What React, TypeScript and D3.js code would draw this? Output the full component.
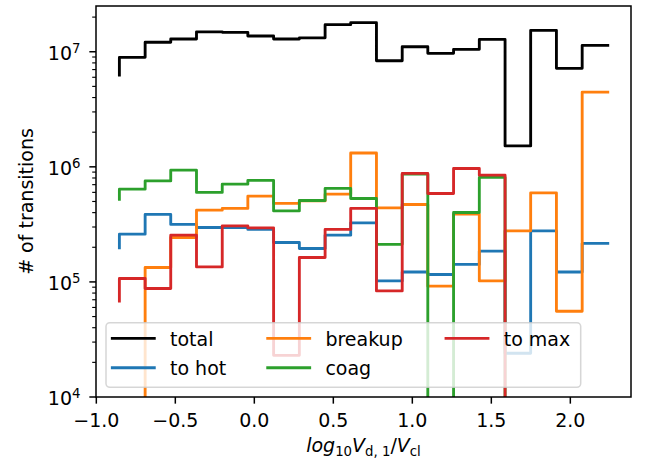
import React from 'react';
import * as d3 from 'd3';

// bin edges (x of each step point) and counts, step drawn "pre"
const binEdges = [-0.854, -0.691, -0.529, -0.366, -0.203, -0.041, 0.122, 0.285, 0.448, 0.610,
  0.773, 0.936, 1.098, 1.261, 1.424, 1.587, 1.749, 1.912, 2.075, 2.237];

const total = [6.27e6, 8.94e6, 1.21e7, 1.29e7, 1.49e7, 1.475e7, 1.37e7, 1.29e7, 1.32e7, 1.72e7,
  1.79e7, 8.35e6, 1.105e7, 9.69e6, 1.05e7, 1.28e7, 1.52e6, 1.535e7, 7.17e6, 1.137e7];
const toHot = [1.98e5, 2.6e5, 3.86e5, 3.16e5, 2.97e5, 2.97e5, 2.86e5, 2.2e5, 1.95e5, 2.55e5,
  3.26e5, 1.02e5, 1.22e5, 1.16e5, 1.42e5, 1.85e5, 2.4e4, 2.78e5, 1.22e5, 2.16e5];
const breakup = [0, 0, 1.334e5, 2.43e5, 4.2e5, 4.35e5, 5.56e5, 4.81e5, 5.06e5, 5.79e5,
  1.32e6, 4.4e5, 4.71e5, 9.18e4, 3.88e5, 1.02e5, 2.78e5, 5.94e5, 5.56e4, 4.46e6];
const coag = [5.21e5, 6.4e5, 7.55e5, 9.36e5, 5.99e5, 7.07e5, 7.62e5, 4.14e5, 5.1e5, 6.49e5,
  5.31e5, 2.12e5, 8.64e5, 0, 4.01e5, 8.09e5, 0, 0, 0, 0];
const toMax = [6.8e4, 1.07e5, 8.76e4, 2.55e5, 1.35e5, 3.07e5, 2.95e5, 2.3e4, 1.63e5, 2.86e5,
  4.35e5, 8.35e4, 8.76e5, 5.87e5, 9.68e5, 8.47e5, 0, 0, 0, 0];

const xTicks = [-1.0, -0.5, 0.0, 0.5, 1.0, 1.5, 2.0];
const xTickLabels = ['\u22121.0', '\u22120.5', '0.0', '0.5', '1.0', '1.5', '2.0'];
const yTickExps = [4, 5, 6, 7];

const seriesNames = ['total', 'to hot', 'breakup', 'coag', 'to max'];
const seriesColors = ['#000000', '#1f77b4', '#ff7f0e', '#2ca02c', '#d62728'];
const seriesValues = [total, toHot, breakup, coag, toMax];

const W = 646, H = 462;
const L = 96, R = 631, T = 6, B = 397;
const FONT = 'DejaVu Sans';
const FS = 19;

export default function App() {
  const x = d3.scaleLinear().domain([-1.002, 2.384]).range([L, R]);
  const y = d3.scaleLog().domain([1e4, Math.pow(10, 7.3975)]).range([B, T]);

  const line = d3.line<number>()
    .x((_, i) => x(binEdges[i]))
    .y(d => y(d > 0 ? d : 1))
    .curve(d3.curveStepBefore);

  const minorTicks: number[] = [];
  yTickExps.forEach(e => {
    for (let k = 2; k <= 9; k++) {
      const v = k * Math.pow(10, e);
      if (v <= y.domain()[1]) minorTicks.push(v);
    }
  });

  const legendCols = [112.3, 267.7, 446];
  const legendRows = [338.3, 367.7];
  const legendItems = seriesNames.map((n, i) => ({
    name: n, color: seriesColors[i],
    cx: legendCols[Math.floor(i / 2)], cy: legendRows[i % 2],
  }));

  return (
    <svg width={W} height={H} style={{ position: 'absolute', left: 0, top: 0, display: 'block', background: '#fff' }}
      fontFamily={FONT}>
      <defs>
        <clipPath id="plotclip">
          <rect x={L} y={T} width={R - L} height={B - T} />
        </clipPath>
      </defs>
      <rect x={0} y={0} width={W} height={H} fill="#fff" />
      <g clipPath="url(#plotclip)">
        {seriesValues.map((vals, i) => (
          <path key={i} d={line(vals) || ''} fill="none" stroke={seriesColors[i]}
            strokeWidth={2.85} strokeLinejoin="round" strokeLinecap="square" />
        ))}
      </g>
      {/* spines */}
      <rect x={L} y={T} width={R - L} height={B - T} fill="none" stroke="#000" strokeWidth={1.5} />
      {/* x ticks */}
      {xTicks.map((t, i) => (
        <g key={'xt' + i}>
          <line x1={x(t)} x2={x(t)} y1={B} y2={B + 6.65} stroke="#000" strokeWidth={1.5} />
          <text x={x(t)} y={427} fontSize={FS} textAnchor="middle" fill="#000">{xTickLabels[i]}</text>
        </g>
      ))}
      {/* y major ticks */}
      {yTickExps.map(e => {
        const yy = y(Math.pow(10, e));
        return (
          <g key={'yt' + e}>
            <line x1={L} x2={L - 6.65} y1={yy} y2={yy} stroke="#000" strokeWidth={1.5} />
            <text x={80.5} y={yy + 8.3} fontSize={FS} textAnchor="end" fill="#000">
              10<tspan fontSize={13.3} dy={-7.3}>{e}</tspan>
            </text>
          </g>
        );
      })}
      {minorTicks.map((v, i) => (
        <line key={'ym' + i} x1={L} x2={L - 3.8} y1={y(v)} y2={y(v)} stroke="#000" strokeWidth={1.14} />
      ))}
      {/* axis labels */}
      <text transform={`translate(33,${(T + B) / 2}) rotate(-90)`} fontSize={FS} textAnchor="middle" fill="#000">
        # of transitions
      </text>
      <text x={(L + R) / 2} y={451.5} fontSize={FS} textAnchor="middle" fill="#000">
        <tspan fontStyle="italic">log</tspan>
        <tspan fontSize={13.3} dy={4.3}>10</tspan>
        <tspan fontStyle="italic" dy={-4.3}>V</tspan>
        <tspan fontSize={13.3} dy={4.3}>d, 1</tspan>
        <tspan dy={-4.3}>/</tspan>
        <tspan fontStyle="italic">V</tspan>
        <tspan fontSize={13.3} dy={4.3}>cl</tspan>
      </text>
      {/* legend */}
      <rect x={106} y={322.7} width={474.7} height={64.6} rx={3.8} ry={3.8}
        fill="#fff" fillOpacity={0.8} stroke="#cccccc" strokeOpacity={0.8} strokeWidth={1.5} />
      {legendItems.map((it, i) => (
        <g key={'lg' + i}>
          <line x1={it.cx} x2={it.cx + 42} y1={it.cy} y2={it.cy} stroke={it.color} strokeWidth={2.85} strokeLinecap="square" />
          <text x={it.cx + 57.7} y={it.cy + 7.3} fontSize={FS} fill="#000">{it.name}</text>
        </g>
      ))}
    </svg>
  );
}
